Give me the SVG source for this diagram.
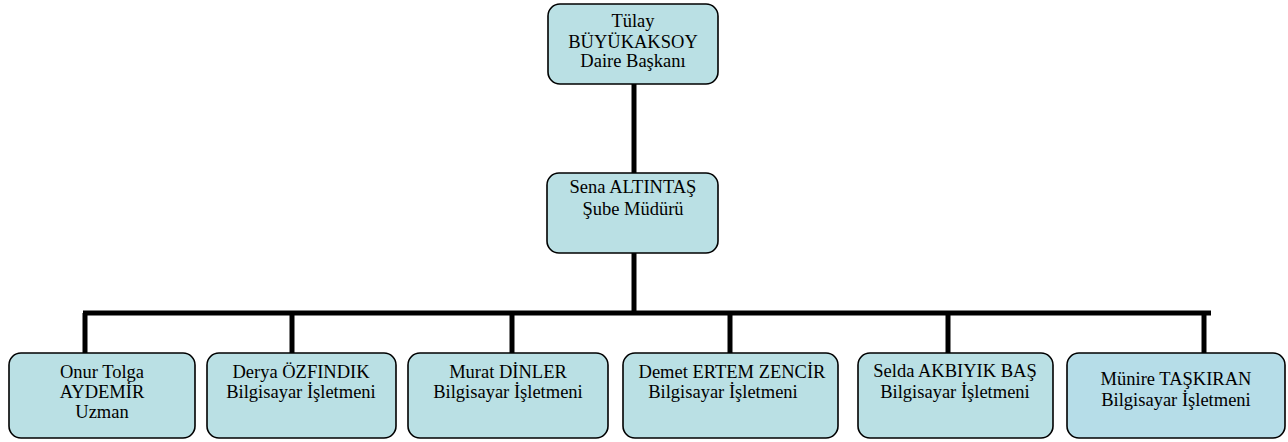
<svg xmlns="http://www.w3.org/2000/svg" width="1288" height="442" viewBox="0 0 1288 442">
<style>
.box{fill:#bae0e4;stroke:#000;stroke-width:1.6}
.box6{fill:#b6dde8;stroke:#000;stroke-width:1.6}
.t{font-family:'Liberation Serif','Times New Roman',serif;font-size:18.5px;fill:#000;text-anchor:middle}
.con{stroke:#000;stroke-width:5;fill:none}
</style>
<rect width="1288" height="442" fill="#fff"/>
<g id="connectors">
<line class="con" x1="634" y1="84" x2="634" y2="173"/>
<line class="con" x1="634" y1="253" x2="634" y2="313"/>
<line class="con" x1="83" y1="313" x2="1211" y2="313"/>
<line class="con" x1="85" y1="313" x2="85" y2="353"/>
<line class="con" x1="292" y1="313" x2="292" y2="353"/>
<line class="con" x1="512" y1="313" x2="512" y2="353"/>
<line class="con" x1="730" y1="313" x2="730" y2="353"/>
<line class="con" x1="948" y1="313" x2="948" y2="353"/>
<line class="con" x1="1204" y1="313" x2="1204" y2="354"/>
</g>
<g id="n-tulay">
<rect class="box" x="548" y="4" width="170" height="80" rx="12"/>
<text class="t" x="633" y="27">Tülay</text>
<text class="t" x="633" y="48">BÜYÜKAKSOY</text>
<text class="t" x="633" y="67">Daire Başkanı</text>
</g>
<g id="n-sena">
<rect class="box" x="547" y="173" width="171" height="80" rx="12"/>
<text class="t" x="633" y="193">Sena ALTINTAŞ</text>
<text class="t" x="633" y="215">Şube Müdürü</text>
</g>
<g id="n-onur">
<rect class="box" x="9" y="353" width="186" height="85" rx="12"/>
<text class="t" x="102" y="378">Onur Tolga</text>
<text class="t" x="102" y="398">AYDEMİR</text>
<text class="t" x="102" y="418">Uzman</text>
</g>
<g id="n-derya">
<rect class="box" x="207" y="353" width="189" height="85" rx="12"/>
<text class="t" x="301" y="378">Derya ÖZFINDIK</text>
<text class="t" x="301" y="398">Bilgisayar İşletmeni</text>
</g>
<g id="n-murat">
<rect class="box" x="408" y="353" width="200" height="85" rx="12"/>
<text class="t" x="508" y="378">Murat DİNLER</text>
<text class="t" x="508" y="398">Bilgisayar İşletmeni</text>
</g>
<g id="n-demet">
<rect class="box" x="623" y="353" width="215" height="85" rx="12"/>
<text class="t" x="732" y="378">Demet ERTEM ZENCİR</text>
<text class="t" x="723" y="398">Bilgisayar İşletmeni</text>
</g>
<g id="n-selda">
<rect class="box" x="858" y="353" width="195" height="85" rx="12"/>
<text class="t" x="955" y="377">Selda AKBIYIK BAŞ</text>
<text class="t" x="955" y="398">Bilgisayar İşletmeni</text>
</g>
<g id="n-munire">
<rect class="box6" x="1067" y="353" width="218" height="85" rx="12"/>
<text class="t" x="1176" y="385">Münire TAŞKIRAN</text>
<text class="t" x="1176" y="406">Bilgisayar İşletmeni</text>
</g>
</svg>
